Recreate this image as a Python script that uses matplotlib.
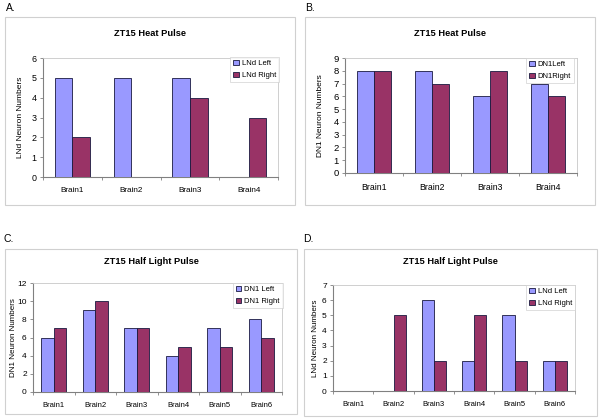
import matplotlib
matplotlib.use("Agg")
import matplotlib.pyplot as plt
from matplotlib.patches import Rectangle
import numpy as np

plt.rcParams['font.family'] = ['Liberation Sans', 'DejaVu Sans']

# ---- data ----
cats4 = ["Brain1", "Brain2", "Brain3", "Brain4"]
cats6 = ["Brain1", "Brain2", "Brain3", "Brain4", "Brain5", "Brain6"]

a_left = [5, 5, 5, 0]
a_right = [2, 0, 4, 3]
b_left = [8, 8, 6, 7]
b_right = [8, 7, 8, 6]
c_left = [6, 9, 7, 4, 7, 8]
c_right = [7, 10, 7, 5, 5, 6]
d_left = [0, 0, 6, 2, 5, 2]
d_right = [0, 5, 2, 5, 2, 2]

W, H = 601, 420
fig = plt.figure(figsize=(W / 100, H / 100), dpi=100)

BLUE = "#9999FF"
RED = "#993366"


def fx(x):
    return x / W


def fy(y):
    return 1 - y / H


def frame(x0, y0, x1, y1):
    fig.patches.append(Rectangle((fx(x0), fy(y1)), fx(x1 - x0), (y1 - y0) / H,
                                 transform=fig.transFigure, fill=False,
                                 edgecolor="#d0d0d0", linewidth=0.8))


def panel(box, plot, title, title_y, cats, left, right, labels, ylabel, ylabel_x,
          ymax, ystep, letter, letter_pos, leg_box, tfs, lfs):
    frame(*box)
    x0, y0, x1, y1 = plot
    ax = fig.add_axes([fx(x0), fy(y1), fx(x1 - x0), (y1 - y0) / H])
    n = len(cats)
    x = np.arange(n)
    bw = 0.3
    ax.bar(x - bw / 2, left, bw, color=BLUE, edgecolor="#1a1a40", linewidth=0.6,
           label=labels[0], zorder=3)
    ax.bar(x + bw / 2, right, bw, color=RED, edgecolor="#1a1a40", linewidth=0.6,
           label=labels[1], zorder=3)
    ax.set_xlim(-0.5, n - 0.5)
    ax.set_ylim(0, ymax)
    ax.set_yticks(np.arange(0, ymax + 0.01, ystep))
    ax.set_xticks(x)
    ax.set_xticklabels(cats, fontsize=tfs)
    ax.set_xticks(np.arange(-0.5, n, 1), minor=True)
    ax.tick_params(axis='x', which='major', length=0, pad=7)
    ax.tick_params(axis='x', which='minor', length=2.5, color="#808080", width=0.6)
    ax.tick_params(axis='y', labelsize=tfs + 0.5, length=2.5, color="#808080",
                   width=0.6, pad=2)
    for s in ["top", "right"]:
        ax.spines[s].set_color("#c8c8c8")
        ax.spines[s].set_linewidth(0.6)
    for s in ["left", "bottom"]:
        ax.spines[s].set_color("#808080")
        ax.spines[s].set_linewidth(0.8)
    ax.set_ylabel(ylabel, fontsize=lfs)
    # y label: right edge (rotated text bottom) at given pixel x
    ax.yaxis.set_label_coords((ylabel_x + 4 - x0) / (x1 - x0), 0.5)
    fig.text(fx((box[0] + box[2]) / 2), fy(title_y),
             title, ha="center", va="center", fontsize=6.7, fontweight="bold")
    fig.text(fx(letter_pos[0]), fy(letter_pos[1]), letter, ha="left", va="center",
             fontsize=7.5)
    lx1, ly0 = leg_box
    leg = ax.legend(loc="upper right", bbox_to_anchor=(fx(lx1), fy(ly0)),
                    bbox_transform=fig.transFigure, borderaxespad=0,
                    fontsize=5.5, frameon=True, fancybox=False,
                    handlelength=0.7, handleheight=0.7, handletextpad=0.4,
                    labelspacing=0.6, borderpad=0.4)
    leg.get_frame().set_edgecolor("#d0d0d0")
    leg.get_frame().set_linewidth(0.6)
    leg.set_zorder(5)
    return ax


panel((5, 17, 295, 205), (43, 58, 278, 177), "ZT15 Heat Pulse", 34, cats4,
      a_left, a_right, ["LNd Left", "LNd Right"], "LNd Neuron Numbers", 20, 6, 1,
      "A.", (6, 8), (279, 57), 5.9, 6.0)
panel((305, 17, 595, 205), (345, 58, 577, 173), "ZT15 Heat Pulse", 34, cats4,
      b_left, b_right, ["DN1Left", "DN1Right"], "DN1 Neuron Numbers", 320, 9, 1,
      "B.", (305, 8), (574, 58), 6.3, 6.0)
panel((5, 249, 297, 414), (33, 283, 282, 392), "ZT15 Half Light Pulse", 262, cats6,
      c_left, c_right, ["DN1 Left", "DN1 Right"], "DN1 Neuron Numbers", 13, 12, 2,
      "C.", (3, 239), (283, 283), 5.5, 5.8)
panel((304, 249, 597, 416), (333, 285, 575, 391), "ZT15 Half Light Pulse", 262, cats6,
      d_left, d_right, ["LNd Left", "LNd Right"], "LNd Neuron Numbers", 315, 7, 1,
      "D.", (303, 239), (575, 285), 5.5, 5.8)

fig.savefig("out.png", dpi=100)
